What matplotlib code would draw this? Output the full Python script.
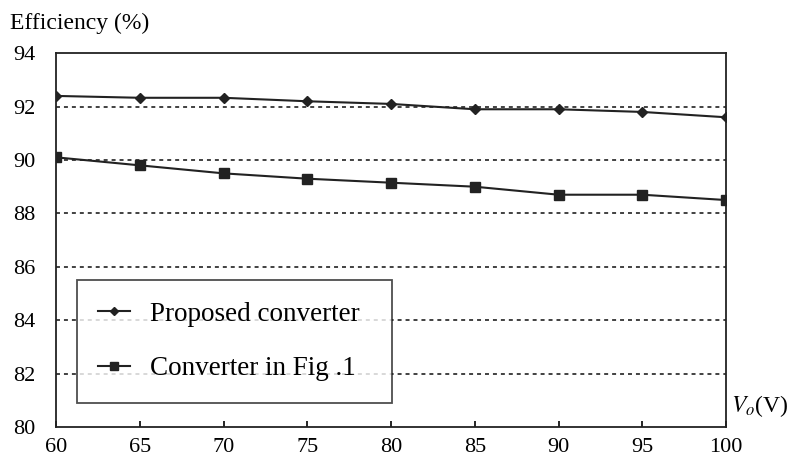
import matplotlib
matplotlib.use("Agg")
import matplotlib.pyplot as plt

# Data
vo = [60, 65, 70, 75, 80, 85, 90, 95, 100]
proposed = [92.4, 92.33, 92.33, 92.2, 92.1, 91.9, 91.9, 91.8, 91.6]
fig1_conv = [90.1, 89.8, 89.5, 89.3, 89.15, 89.0, 88.7, 88.7, 88.5]
y_ticks = [80, 82, 84, 86, 88, 90, 92, 94]
x_ticks = [60, 65, 70, 75, 80, 85, 90, 95, 100]

plt.rcParams['font.family'] = ['Liberation Serif', 'DejaVu Serif']
plt.rcParams['mathtext.fontset'] = 'stix'

fig = plt.figure(figsize=(7.92, 4.57), dpi=100)
ax = fig.add_axes([0.0707, 0.0656, 0.846, 0.818])

# dotted grid lines
for g in y_ticks[1:-1]:
    ax.axhline(g, color='#333333', lw=1.3, ls=(0, (2.2, 2.2)), zorder=1)

ax.plot(vo, proposed, color='#222222', lw=1.5, marker='D', ms=5,
        label='Proposed converter', zorder=3)
ax.plot(vo, fig1_conv, color='#222222', lw=1.5, marker='s', ms=6.5,
        label='Converter in Fig .1', zorder=3)

ax.set_xlim(60, 100)
ax.set_ylim(80, 94)
ax.set_xticks(x_ticks)
ax.set_yticks(y_ticks)
ax.tick_params(axis='x', direction='in', length=4, width=1.2, labelsize=16, pad=8)
ax.tick_params(axis='y', length=0, labelsize=16, pad=15)
for s in ax.spines.values():
    s.set_linewidth(1.3)
    s.set_color('#222222')

leg = ax.legend(loc='lower left', bbox_to_anchor=(0.031, 0.064, 0.47, 0.326),
                mode='expand', borderaxespad=0, fontsize=19.5, frameon=True,
                fancybox=False, handlelength=1.15, labelspacing=1.1,
                borderpad=0.8, handletextpad=0.75, markerscale=0.85)
leg.get_frame().set_edgecolor('#222222')
leg.get_frame().set_linewidth(1.3)

fig.text(0.013, 0.948, 'Efficiency (%)', fontsize=17, va='center', ha='left')
ax.text(1.008, 0.055, '$V_o$(V)', transform=ax.transAxes, fontsize=17,
        ha='left', va='center')

fig.savefig('out.png', dpi=100)
